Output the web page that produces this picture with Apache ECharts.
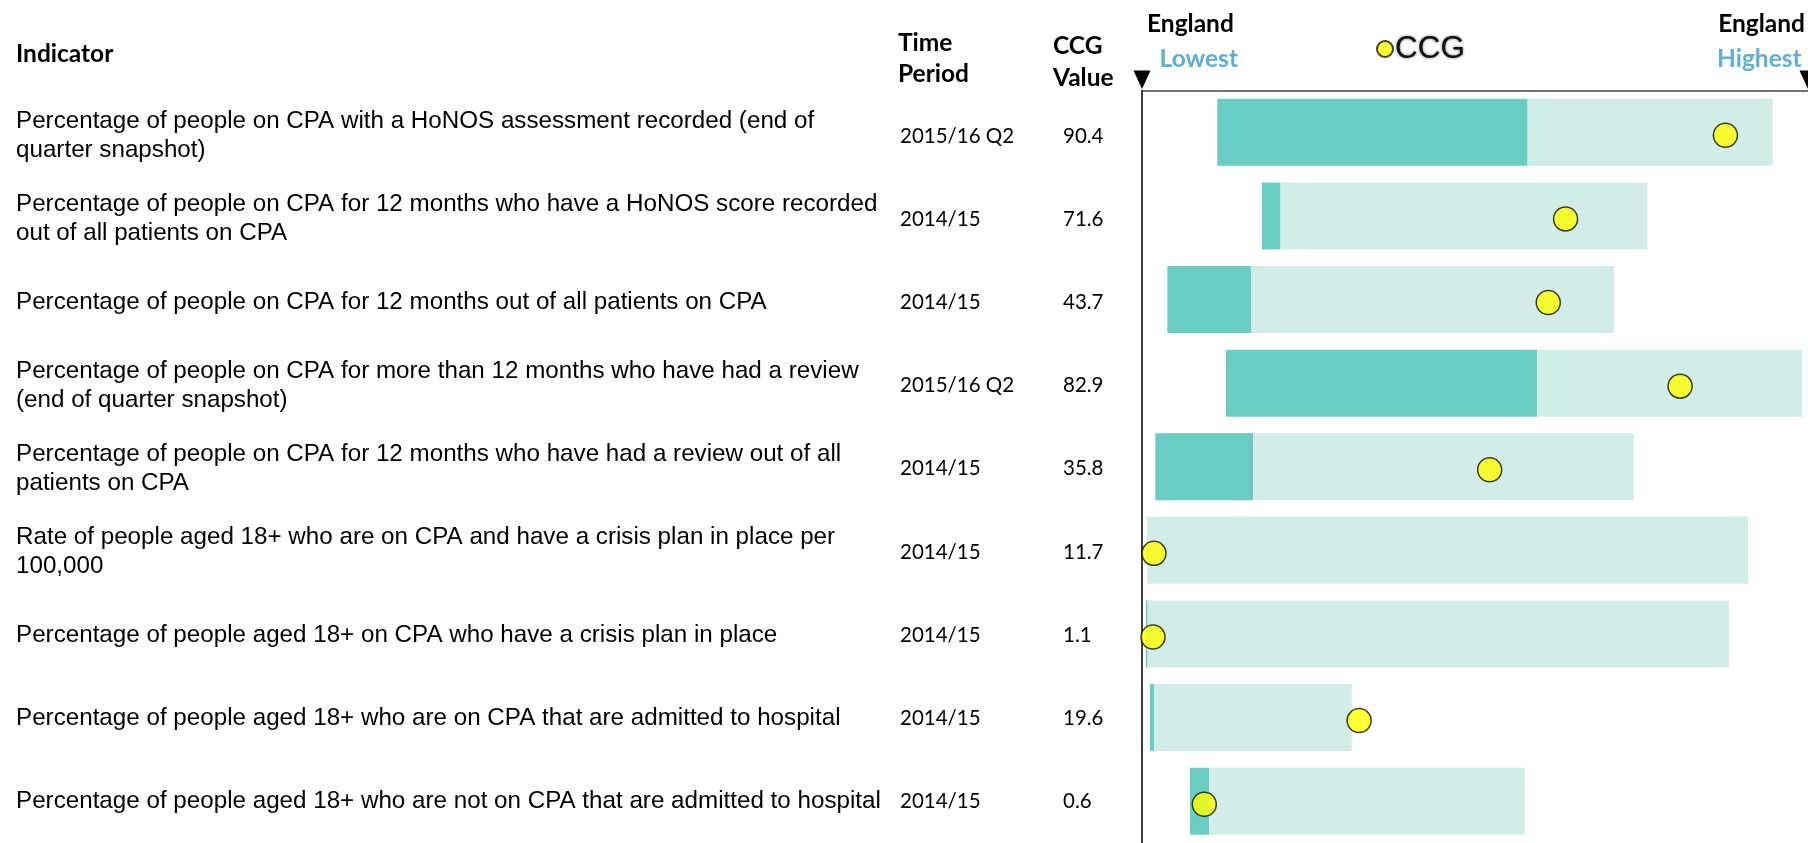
<!DOCTYPE html>
<html>
<head>
<meta charset="utf-8">
<title>CPA indicators spine chart</title>
<script src="https://cdn.jsdelivr.net/npm/echarts@6/dist/echarts.min.js"></script>
<style>
  html, body { margin: 0; padding: 0; background: #ffffff; }
  #chart { width: 1808px; height: 843px; }
</style>
</head>
<body>
<div id="chart"></div>
<script>
// Indicator names (line breaks as laid out in the table)
const indicators = [
  'Percentage of people on CPA with a HoNOS assessment recorded (end of\nquarter snapshot)',
  'Percentage of people on CPA for 12 months who have a HoNOS score recorded\nout of all patients on CPA',
  'Percentage of people on CPA for 12 months out of all patients on CPA',
  'Percentage of people on CPA for more than 12 months who have had a review\n(end of quarter snapshot)',
  'Percentage of people on CPA for 12 months who have had a review out of all\npatients on CPA',
  'Rate of people aged 18+ who are on CPA and have a crisis plan in place per\n100,000',
  'Percentage of people aged 18+ on CPA who have a crisis plan in place',
  'Percentage of people aged 18+ who are on CPA that are admitted to hospital',
  'Percentage of people aged 18+ who are not on CPA that are admitted to hospital'
];
const timePeriods = ['2015/16 Q2', '2014/15', '2014/15', '2015/16 Q2', '2014/15', '2014/15', '2014/15', '2014/15', '2014/15'];
const ccgValues = ['90.4', '71.6', '43.7', '82.9', '35.8', '11.7', '1.1', '19.6', '0.6'];

// Positions on the England spine: 0 = England lowest, 100 = England highest
const bandStart = [11.3, 18.0, 3.8, 12.6, 2.0, 0.75, 0.6, 1.2, 7.2];
const darkEnd   = [57.9, 20.8, 16.4, 59.3, 16.7, 0.75, 0.85, 1.8, 10.1];
const bandEnd   = [94.7, 75.9, 70.9, 99.1, 73.8, 91.0, 88.1, 31.5, 57.5];
const ccgPosition = [87.6, 63.6, 61.0, 80.8, 52.2, 1.8, 1.65, 32.6, 9.35];

const SANS = '"Liberation Sans", Arial, sans-serif';
const CAL = 'Lato, "Open Sans", sans-serif';
const DARK = '#6ACDC4';
const LIGHT = '#D2ECE8';
const BLUE = '#5FAFD6';

const gridLeft = 1142;
const gridTop = 90.5;
const gridHeight = 755;
const textDrop = 4; // table text sits slightly below the bar centres

const chart = echarts.init(document.getElementById('chart'), null, { renderer: 'canvas' });

const darkWidth = darkEnd.map((v, i) => +(v - bandStart[i]).toFixed(3));
const lightWidth = bandEnd.map((v, i) => +(v - darkEnd[i]).toFixed(3));

// Table columns are drawn as label-only category axes in a second, slightly lower grid
function labelAxis(labels, margin, font) {
  return {
    type: 'category',
    gridIndex: 1,
    data: labels,
    inverse: true,
    position: 'left',
    axisLine: { show: false },
    axisTick: { show: false },
    splitLine: { show: false },
    axisLabel: {
      interval: 0,
      margin: margin,
      align: 'left',
      verticalAlign: 'middle',
      color: '#000000',
      fontFamily: font.family,
      fontSize: font.size,
      lineHeight: font.lineHeight
    }
  };
}

const option = {
  animation: false,
  backgroundColor: '#ffffff',
  grid: [
    { left: gridLeft, right: 0, top: gridTop, height: gridHeight, containLabel: false },
    { left: gridLeft, right: 0, top: gridTop + textDrop, height: gridHeight, containLabel: false }
  ],
  legend: {
    data: ['CCG'],
    left: 1371,
    top: 28,
    icon: 'circle',
    itemWidth: 16,
    itemHeight: 17,
    itemGap: 0,
    textStyle: {
      fontFamily: SANS,
      fontSize: 31.5,
      color: '#111111',
      padding: [0, 0, 0, -3],
      textShadowColor: 'rgba(0,0,0,0.6)',
      textShadowBlur: 3
    }
  },
  xAxis: [
    {
      type: 'value',
      gridIndex: 0,
      min: 0,
      max: 100,
      position: 'top',
      axisLine: { show: true, lineStyle: { color: '#444444', width: 1.5 } },
      axisTick: { show: false },
      axisLabel: { show: false },
      splitLine: { show: false }
    },
    {
      type: 'value',
      gridIndex: 1,
      min: 0,
      max: 100,
      show: false
    }
  ],
  yAxis: [
    {
      type: 'category',
      gridIndex: 0,
      data: indicators,
      inverse: true,
      position: 'left',
      axisLine: { show: true, lineStyle: { color: '#000000', width: 1.5 } },
      axisTick: { show: false },
      axisLabel: { show: false },
      splitLine: { show: false }
    },
    labelAxis(indicators, gridLeft - 16, { family: SANS, size: 24.2, lineHeight: 29 }),
    labelAxis(timePeriods, gridLeft - 900, { family: CAL, size: 20.5, lineHeight: 26 }),
    labelAxis(ccgValues, gridLeft - 1063, { family: CAL, size: 20.5, lineHeight: 26 })
  ],
  series: [
    {
      name: 'base',
      type: 'bar',
      stack: 'spine',
      barWidth: 67,
      silent: true,
      itemStyle: { color: 'rgba(0,0,0,0)' },
      data: bandStart
    },
    {
      name: 'lower',
      type: 'bar',
      stack: 'spine',
      barWidth: 67,
      silent: true,
      itemStyle: { color: DARK },
      data: darkWidth
    },
    {
      name: 'upper',
      type: 'bar',
      stack: 'spine',
      barWidth: 67,
      silent: true,
      itemStyle: { color: LIGHT },
      data: lightWidth
    },
    {
      name: 'CCG',
      type: 'scatter',
      symbol: 'circle',
      symbolSize: 24,
      symbolOffset: [0, 3],
      z: 5,
      itemStyle: { color: '#FFFF00', borderColor: '#111111', borderWidth: 1.5 },
      data: ccgPosition.map((v, i) => [v, i])
    }
  ]
};

chart.setOption(option);

// Header texts and the spine end markers, placed from the value axis
const xLow = chart.convertToPixel({ xAxisIndex: 0 }, 0);
const xHigh = chart.convertToPixel({ xAxisIndex: 0 }, 100);

function txt(text, x, y, font, fill, align) {
  return {
    type: 'text',
    silent: true,
    style: {
      text: text,
      x: x,
      y: y,
      fontFamily: font.family,
      fontSize: font.size,
      fontWeight: font.weight || 'normal',
      fill: fill,
      textAlign: align || 'left',
      textVerticalAlign: 'middle'
    }
  };
}
const HEAD = { family: CAL, size: 24.5, weight: 'bold' };

function marker(x) {
  return {
    type: 'polygon',
    silent: true,
    shape: { points: [[x - 8.5, gridTop - 20], [x + 8.5, gridTop - 20], [x, gridTop - 1.5]] },
    style: { fill: '#000000' }
  };
}

chart.setOption({
  graphic: [
    txt('Indicator', 16, 54, HEAD, '#000000'),
    txt('Time', 898, 43, HEAD, '#000000'),
    txt('Period', 898, 74, HEAD, '#000000'),
    txt('CCG', 1053, 46, HEAD, '#000000'),
    txt('Value', 1053, 78, HEAD, '#000000'),
    txt('England', xLow + 5, 24, HEAD, '#000000'),
    txt('Lowest', xLow + 96, 59, HEAD, BLUE, 'right'),
    txt('England', xHigh - 3, 24, HEAD, '#000000', 'right'),
    txt('Highest', xHigh - 91, 59, HEAD, BLUE, 'left'),
    marker(xLow),
    marker(xHigh)
  ]
});
</script>
</body>
</html>
